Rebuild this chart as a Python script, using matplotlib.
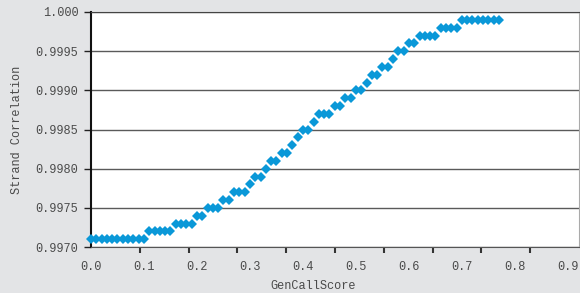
import matplotlib
matplotlib.use("Agg")
import matplotlib.pyplot as plt
import numpy as np

# GenCallScore threshold and the resulting strand correlation
gencall = [0.00, 0.01, 0.02, 0.03, 0.04, 0.05, 0.06, 0.07, 0.08, 0.09,
           0.10, 0.11, 0.12, 0.13, 0.14, 0.15, 0.16, 0.17, 0.18, 0.19,
           0.20, 0.21, 0.22, 0.23, 0.24, 0.25, 0.26, 0.27, 0.28, 0.29,
           0.30, 0.31, 0.32, 0.33, 0.34, 0.35, 0.36, 0.37, 0.38, 0.39,
           0.40, 0.41, 0.42, 0.43, 0.44, 0.45, 0.46, 0.47, 0.48, 0.49,
           0.50, 0.51, 0.52, 0.53, 0.54, 0.55, 0.56, 0.57, 0.58, 0.59,
           0.60, 0.61, 0.62, 0.63, 0.64, 0.65, 0.66, 0.67, 0.68, 0.69,
           0.70, 0.71, 0.72, 0.73, 0.74, 0.75, 0.76, 0.77]
correlation = [0.9971, 0.9971, 0.9971, 0.9971, 0.9971, 0.9971, 0.9971, 0.9971, 0.9971, 0.9971,
               0.9971, 0.9972, 0.9972, 0.9972, 0.9972, 0.9972, 0.9973, 0.9973, 0.9973, 0.9973,
               0.9974, 0.9974, 0.9975, 0.9975, 0.9975, 0.9976, 0.9976, 0.9977, 0.9977, 0.9977,
               0.9978, 0.9979, 0.9979, 0.9980, 0.9981, 0.9981, 0.9982, 0.9982, 0.9983, 0.9984,
               0.9985, 0.9985, 0.9986, 0.9987, 0.9987, 0.9987, 0.9988, 0.9988, 0.9989, 0.9989,
               0.9990, 0.9990, 0.9991, 0.9992, 0.9992, 0.9993, 0.9993, 0.9994, 0.9995, 0.9995,
               0.9996, 0.9996, 0.9997, 0.9997, 0.9997, 0.9997, 0.9998, 0.9998, 0.9998, 0.9998,
               0.9999, 0.9999, 0.9999, 0.9999, 0.9999, 0.9999, 0.9999, 0.9999]

y_ticks = [0.9970, 0.9975, 0.9980, 0.9985, 0.9990, 0.9995, 1.000]
y_labels = ["0.9970", "0.9975", "0.9980", "0.9985", "0.9990", "0.9995", "1.000"]
x_ticks = [0.0, 0.1, 0.2, 0.3, 0.4, 0.5, 0.6, 0.7, 0.8, 0.9]
x_labels = ["0.0", "0.1", "0.2", "0.3", "0.4", "0.5", "0.6", "0.7", "0.8", "0.9"]

bg = "#e3e4e6"
txt = "#4a4a4a"
font = ["Liberation Mono", "DejaVu Sans Mono"]

fig = plt.figure(figsize=(5.8, 2.93), dpi=100, facecolor=bg)
ax = fig.add_axes([91 / 580, 46 / 293, 488 / 580, 235 / 293])
ax.set_facecolor("white")

ax.plot(gencall, correlation, linestyle="none", marker="D", markersize=5.5,
        color="#0a98d8", markeredgewidth=0, clip_on=False, zorder=3)

xmax = 0.921
ax.set_xlim(0, xmax)
ax.set_ylim(0.9970, 1.000)

# horizontal grid
ax.set_yticks(y_ticks)
ax.set_yticklabels(y_labels, family=font, fontsize=8.6, color=txt)
ax.yaxis.grid(True, color="#5a5a5a", linewidth=1)
ax.tick_params(axis="y", direction="out", length=5, width=1, color="#222222", pad=4)

# x labels and tick marks do not line up in the original
ax.set_xticks(x_ticks)
ax.set_xticklabels(x_labels, family=font, fontsize=8.6, color=txt)
ax.tick_params(axis="x", which="major", length=0, pad=10)
ax.set_xticks(np.linspace(0, xmax, 11)[1:-1], minor=True)
ax.tick_params(axis="x", which="minor", direction="out", length=4, width=1.5, color="#333333")

ax.spines["left"].set_color("#111111")
ax.spines["left"].set_linewidth(1.5)
ax.spines["bottom"].set_color("#555555")
ax.spines["top"].set_color("#444444")
ax.spines["right"].set_color("#aaaaaa")
ax.set_axisbelow(True)

fig.text(17 / 580, 1 - 130 / 293, "Strand Correlation", rotation=90, ha="center", va="center",
         family=font, fontsize=8.6, color=txt)
fig.text(313 / 580, 1 - 286 / 293, "GenCallScore", ha="center", va="center",
         family=font, fontsize=8.6, color=txt)

fig.savefig("out.png", dpi=100, facecolor=bg)
